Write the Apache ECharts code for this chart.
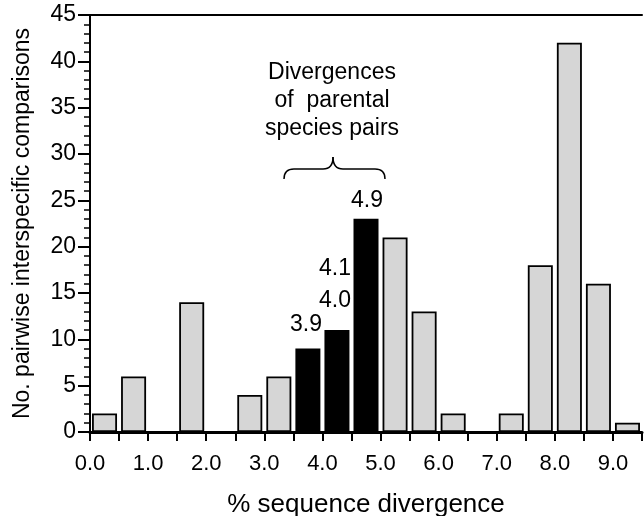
<!DOCTYPE html>
<html>
<head>
<meta charset="utf-8">
<script src="https://cdn.jsdelivr.net/npm/echarts@6/dist/echarts.min.js"></script>
<style>
  html, body { margin: 0; padding: 0; background: #fff; }
  #main { width: 644px; height: 516px; }
</style>
</head>
<body>
<div id="main"></div>
<script>
  // histogram bins (start of each 0.5% bin) and counts
  var binStart = [0.0, 0.5, 1.5, 2.5, 3.0, 3.5, 4.0, 4.5, 5.0, 5.5, 6.0, 7.0, 7.5, 8.0, 8.5, 9.0];
  var counts = [2, 6, 14, 4, 6, 9, 11, 23, 21, 13, 2, 2, 18, 42, 16, 1];
  // bins holding divergences of parental species pairs (drawn black)
  var parentalBins = [3.5, 4.0, 4.5];
  var binWidth = 0.5;

  var font = 'Liberation Sans';

  var barData = binStart.map(function (s, i) {
    var isParent = parentalBins.indexOf(s) >= 0;
    return {
      value: [s + binWidth / 2, counts[i]],
      itemStyle: { color: isParent ? '#000' : '#d6d6d6' }
    };
  });

  function txt(x, y, s) {
    return {
      type: 'text', x: x, y: y,
      style: { text: s, fontFamily: font, fontSize: 23, fill: '#000', align: 'center', verticalAlign: 'middle' }
    };
  }
  var brace = { stroke: '#000', lineWidth: 1.5, fill: null };

  var myChart = echarts.init(document.getElementById('main'));
  var option = {
    animation: false,
    backgroundColor: '#fff',
    grid: { left: 90, right: 2, top: 15, bottom: 84, outerBoundsMode: 'none', containLabel: false },
    xAxis: [
      {
        type: 'value',
        min: 0,
        max: 9.5,
        interval: 0.5,
        name: '% sequence divergence',
        nameLocation: 'middle',
        nameGap: 60,
        nameTextStyle: { fontFamily: font, fontSize: 26, color: '#000' },
        axisLine: { lineStyle: { color: '#000', width: 3 } },
        axisTick: { show: true, length: 9, lineStyle: { color: '#000', width: 2 } },
        axisLabel: {
          margin: 21,
          fontFamily: font,
          fontSize: 22,
          color: '#000',
          formatter: function (v) { return v % 1 === 0 && v < 9.5 ? v.toFixed(1) : ''; }
        },
        splitLine: { show: false }
      },
      {
        type: 'value',
        position: 'top',
        min: 0,
        max: 9.5,
        axisLine: { show: true, onZero: false, lineStyle: { color: '#000', width: 2 } },
        axisTick: { show: false },
        axisLabel: { show: false },
        splitLine: { show: false }
      }
    ],
    yAxis: {
      type: 'value',
      min: 0,
      max: 45,
      interval: 5,
      name: 'No. pairwise interspecific comparisons',
      nameLocation: 'middle',
      nameGap: 56,
      nameTextStyle: { fontFamily: font, fontSize: 23, color: '#000' },
      axisLine: { show: true, lineStyle: { color: '#000', width: 2 } },
      axisTick: { show: true, length: 12, lineStyle: { color: '#000', width: 2 } },
      minorTick: { show: true, splitNumber: 5, length: 6, lineStyle: { color: '#000', width: 1.5 } },
      axisLabel: { margin: 14, fontFamily: font, fontSize: 23, color: '#000' },
      splitLine: { show: false }
    },
    series: [
      {
        type: 'bar',
        xAxisIndex: 0,
        data: barData,
        barWidth: 25,
        itemStyle: { borderColor: '#000', borderWidth: 1.8 }
      }
    ],
    graphic: [
      txt(332, 73, 'Divergences'),
      txt(332, 101, 'of  parental'),
      txt(332, 129, 'species pairs'),
      { type: 'bezierCurve', shape: { x1: 284, y1: 179, cpx1: 284, cpy1: 169, x2: 294, y2: 169 }, style: brace },
      { type: 'line', shape: { x1: 294, y1: 169, x2: 323, y2: 169 }, style: brace },
      { type: 'bezierCurve', shape: { x1: 323, y1: 169, cpx1: 333, cpy1: 169, x2: 333, y2: 157 }, style: brace },
      { type: 'bezierCurve', shape: { x1: 333, y1: 157, cpx1: 333, cpy1: 169, x2: 343, y2: 169 }, style: brace },
      { type: 'line', shape: { x1: 343, y1: 169, x2: 375, y2: 169 }, style: brace },
      { type: 'bezierCurve', shape: { x1: 375, y1: 169, cpx1: 385, cpy1: 169, x2: 385, y2: 179 }, style: brace },
      txt(306, 325, '3.9'),
      txt(335, 301, '4.0'),
      txt(335, 269, '4.1'),
      txt(367, 201, '4.9')
    ]
  };
  myChart.setOption(option);
</script>
</body>
</html>
